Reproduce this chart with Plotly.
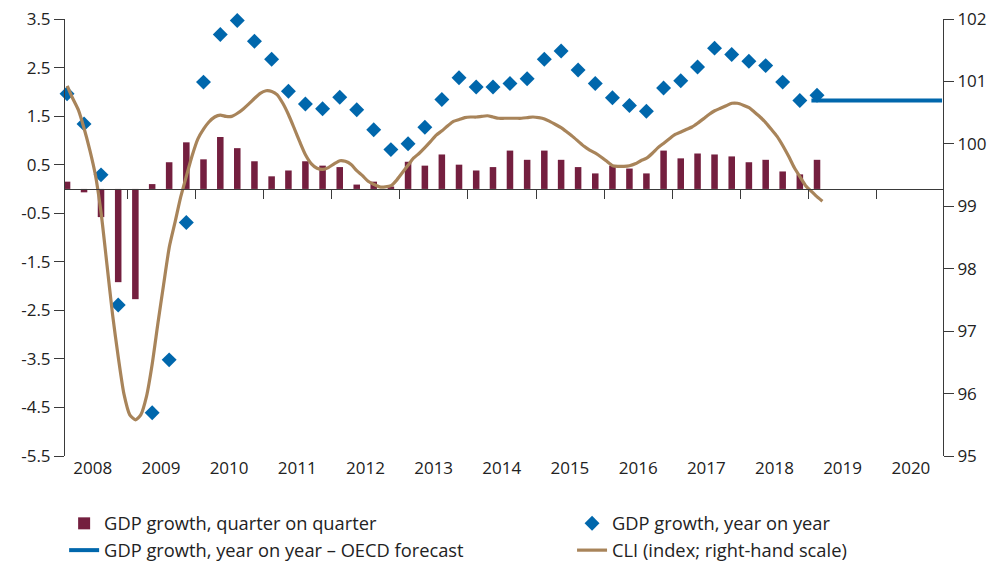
import pandas as pd
import plotly.graph_objects as go

# ---------------- data ----------------
quarters = pd.period_range("2008Q1", "2019Q1", freq="Q")

gdp_qoq = [0.15, -0.07, -0.58, -1.92,
           -2.27, 0.10, 0.55, 0.96,
           0.61, 1.07, 0.84, 0.57,
           0.26, 0.38, 0.57, 0.48,
           0.45, 0.09, 0.15, 0.05,
           0.56, 0.48, 0.71, 0.50,
           0.38, 0.45, 0.79, 0.60,
           0.79, 0.60, 0.45, 0.32,
           0.48, 0.42, 0.32, 0.79,
           0.63, 0.73, 0.71, 0.67,
           0.55, 0.60, 0.36, 0.30,
           0.60]

gdp_yoy = [1.96, 1.34, 0.29, -2.39,
           None, -4.61, -3.52, -0.69,
           2.20, 3.18, 3.47, 3.04,
           2.67, 2.01, 1.75, 1.65,
           1.89, 1.63, 1.22, 0.81,
           0.93, 1.27, 1.84, 2.29,
           2.10, 2.10, 2.17, 2.27,
           2.67, 2.84, 2.45, 2.17,
           1.88, 1.72, 1.60, 2.08,
           2.23, 2.51, 2.90, 2.77,
           2.63, 2.54, 2.20, 1.82,
           1.93]

forecast_years = [2019, 2020]
forecast_values = [1.82, 1.82]

cli_months = pd.period_range("2008-02", "2019-03", freq="M")
cli_values = [100.93, 100.73, 100.54, 100.25, 99.90, 99.50, 98.88, 98.06, 97.26, 96.57, 95.99,
              95.66, 95.58, 95.66, 95.96, 96.47, 97.13, 97.74, 98.35, 98.75, 99.15, 99.49, 99.81,
              100.08, 100.24, 100.35, 100.43, 100.46, 100.44, 100.44, 100.49, 100.56, 100.64, 100.73, 100.81,
              100.85, 100.84, 100.79, 100.65, 100.47, 100.25, 100.03, 99.82, 99.68, 99.61, 99.59, 99.62,
              99.68, 99.73, 99.72, 99.67, 99.57, 99.49, 99.40, 99.35, 99.31, 99.31, 99.33, 99.42,
              99.54, 99.66, 99.77, 99.85, 99.94, 100.04, 100.14, 100.21, 100.29, 100.36, 100.39, 100.42,
              100.43, 100.43, 100.44, 100.45, 100.43, 100.41, 100.41, 100.41, 100.41, 100.41, 100.42, 100.43,
              100.42, 100.40, 100.36, 100.31, 100.26, 100.19, 100.12, 100.04, 99.96, 99.90, 99.85, 99.79,
              99.72, 99.65, 99.64, 99.64, 99.65, 99.68, 99.73, 99.77, 99.85, 99.94, 100.01, 100.08,
              100.15, 100.19, 100.23, 100.27, 100.33, 100.40, 100.47, 100.53, 100.57, 100.61, 100.65, 100.65,
              100.62, 100.58, 100.51, 100.43, 100.34, 100.23, 100.12, 99.97, 99.80, 99.62, 99.47, 99.33,
              99.24, 99.15, 99.08]

year_labels = [str(y) for y in range(2008, 2021)]
left_ticks = [-5.5, -4.5, -3.5, -2.5, -1.5, -0.5, 0.5, 1.5, 2.5, 3.5]
right_ticks = [95, 96, 97, 98, 99, 100, 101, 102]

# ---------------- derived positions ----------------
q_dates = [p.start_time + pd.Timedelta(days=44) for p in quarters]
m_dates = [p.start_time + pd.Timedelta(days=14) for p in cli_months]
fc_x, fc_y = [], []
for yr, v in zip(forecast_years, forecast_values):
    for m in range(1, 13):
        fc_x.append(pd.Timestamp(yr, m, 15))
        fc_y.append(v)

x_range = ["2008-02-03", "2020-12-20"]
mid_year = [pd.Timestamp(int(y), 7, 1) for y in year_labels]
year_bounds = [pd.Timestamp(int(y), 1, 1) for y in year_labels[1:]]

BAR = "#741F3F"
BLUE = "#0067AC"
TAN = "#A8845A"
AX = "#3a3a3a"
FONT = "Open Sans"
TXT = "#222222"

fig = go.Figure()
fig.add_trace(go.Bar(x=q_dates, y=gdp_qoq, name="GDP growth, quarter on quarter",
                     marker=dict(color=BAR, line=dict(width=0)),
                     width=35 * 86400000, xaxis="x", yaxis="y", legend="legend"))
fig.add_trace(go.Scatter(x=q_dates, y=gdp_yoy, name="GDP growth, year on year",
                         mode="markers", marker=dict(symbol="diamond", size=11.5, color=BLUE),
                         cliponaxis=False, xaxis="x", yaxis="y", legend="legend2"))
fig.add_trace(go.Scatter(x=fc_x, y=fc_y, name="GDP growth, year on year – OECD forecast",
                         mode="lines", line=dict(color=BLUE, width=4),
                         xaxis="x2", yaxis="y", legend="legend"))
fig.add_trace(go.Scatter(x=m_dates, y=cli_values, name="CLI (index; right-hand scale)",
                         mode="lines", line=dict(color=TAN, width=3.2, shape="spline", smoothing=0.6),
                         xaxis="x", yaxis="y2", legend="legend2"))

leg_common = dict(orientation="v", y=-0.112, xanchor="left", yanchor="top",
                  traceorder="normal", itemwidth=30, tracegroupgap=0,
                  bgcolor="rgba(0,0,0,0)",
                  font=dict(family=FONT, size=18.3, color=TXT))

fig.update_layout(
    width=1008, height=565,
    margin=dict(l=65, r=65, t=19, b=109, autoexpand=False),
    paper_bgcolor="white", plot_bgcolor="white",
    font=dict(family=FONT, size=17, color=TXT),
    showlegend=True,
    barmode="overlay",
    legend=dict(x=-0.001, **leg_common),
    legend2=dict(x=0.5775, **leg_common),
    xaxis=dict(type="date", range=x_range, tickmode="array", tickvals=mid_year,
               ticktext=year_labels, ticks="", showline=False, showgrid=False,
               zeroline=False, tickfont=dict(size=17)),
    xaxis2=dict(type="date", range=x_range, overlaying="x", anchor="free",
                position=5.5 / 9, tickmode="array", tickvals=year_bounds,
                ticks="outside", ticklen=9, tickcolor=AX, tickwidth=1,
                showticklabels=False, showline=True, linecolor=AX, linewidth=1,
                showgrid=False, zeroline=False),
    yaxis=dict(range=[-5.5, 3.5], tickmode="array", tickvals=left_ticks,
               ticktext=[f"{v:.1f}" for v in left_ticks],
               ticks="outside", ticklen=10, tickcolor=AX, showline=True, linecolor=AX,
               linewidth=1, showgrid=False, zeroline=False, tickfont=dict(size=17)),
    yaxis2=dict(range=[95, 102], overlaying="y", side="right", tickmode="array",
                tickvals=right_ticks, ticks="outside", ticklen=10, tickcolor=AX,
                showline=True, linecolor=AX, linewidth=1, showgrid=False,
                zeroline=False, tickfont=dict(size=17)),
)

fig.write_html("out.html", config={"displayModeBar": False},
               post_script="document.body.style.margin='0';")
